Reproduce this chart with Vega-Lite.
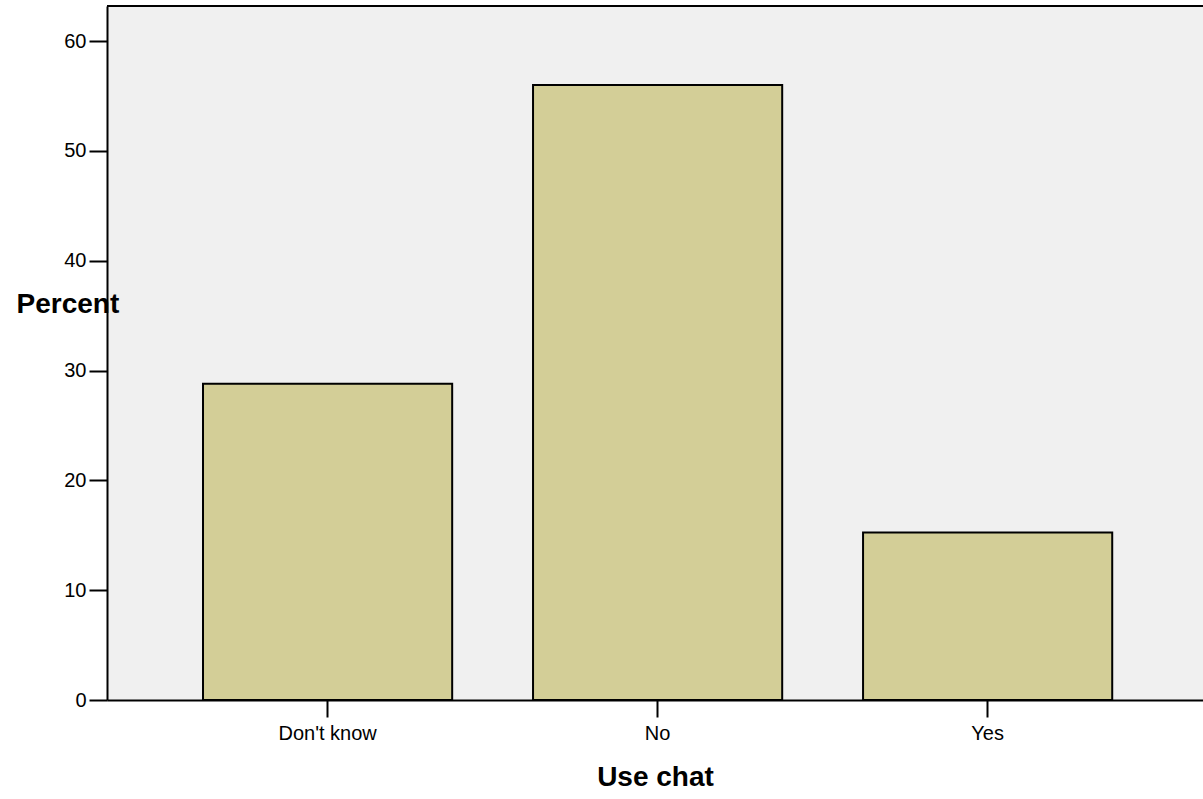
{
  "$schema": "https://vega.github.io/schema/vega-lite/v6.json",
  "width": 1096,
  "height": 694,
  "autosize": {"type": "none"},
  "padding": {"left": 107, "top": 6, "right": 0, "bottom": 99},
  "background": "#FFFFFF",
  "config": {
    "view": {"fill": "#F0F0F0", "stroke": null},
    "font": "Liberation Sans",
    "axis": {"labelFont": "Liberation Sans", "titleFont": "Liberation Sans", "labelColor": "#000000", "titleColor": "#000000", "domainColor": "#000000", "tickColor": "#000000", "grid": false}
  },
  "data": {
    "values": [
      {"chat": "Don't know", "percent": 28.8},
      {"chat": "No", "percent": 56.0},
      {"chat": "Yes", "percent": 15.25}
    ]
  },
  "layer": [
    {
      "mark": {"type": "bar", "fill": "#D3CE97", "stroke": "#000000", "strokeWidth": 2},
      "encoding": {
        "x": {
          "field": "chat",
          "type": "nominal",
          "sort": null,
          "scale": {"paddingInner": 0.245, "paddingOuter": 0.283, "align": 0.514},
          "axis": {
            "title": "Use chat",
            "labelAngle": 0,
            "labelFontSize": 20,
            "tickSize": 17,
            "tickWidth": 2,
            "domainWidth": 2,
            "labelPadding": 6.5,
            "titleFontSize": 28,
            "titleFontWeight": "bold",
            "titleBaseline": "alphabetic",
            "titleY": 85
          }
        },
        "y": {
          "field": "percent",
          "type": "quantitative",
          "scale": {"domain": [0, 63.2], "nice": false},
          "axis": {
            "title": "Percent",
            "values": [0, 10, 20, 30, 40, 50, 60],
            "labelFontSize": 20,
            "tickSize": 18,
            "tickWidth": 2,
            "domainWidth": 2,
            "labelPadding": 3,
            "titleFontSize": 28,
            "titleFontWeight": "bold",
            "titleAngle": 0,
            "titleAlign": "left",
            "titleBaseline": "alphabetic",
            "titleX": -91,
            "titleY": 306
          }
        }
      }
    },
    {
      "mark": {"type": "rule", "color": "#000000", "strokeWidth": 2},
      "encoding": {"y": {"datum": 63.2}}
    }
  ]
}
